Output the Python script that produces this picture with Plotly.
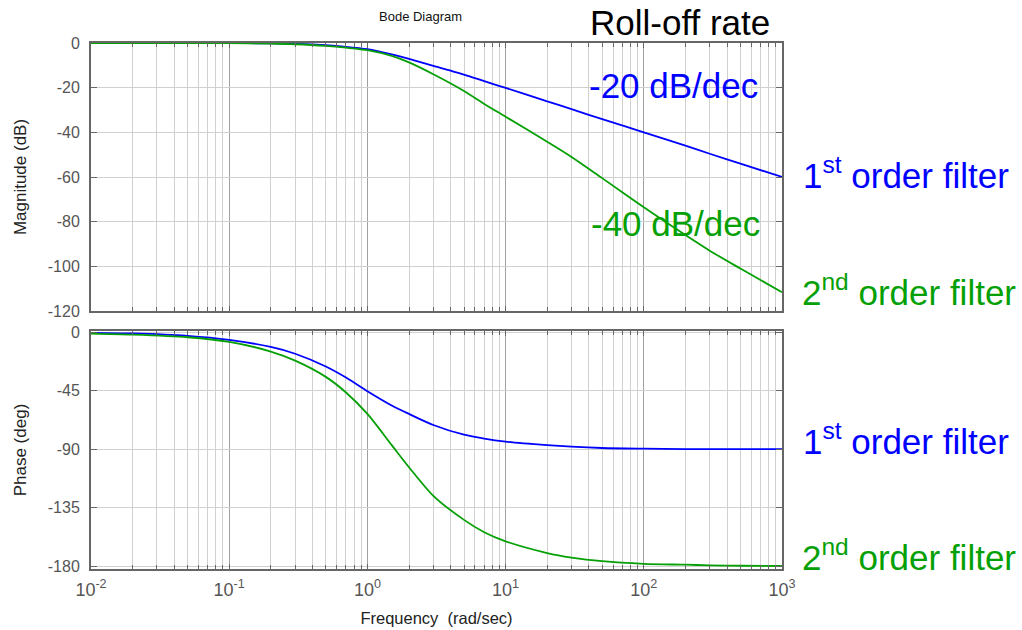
import plotly.graph_objects as go

# Frequency samples (rad/sec)
freq = [0.01, 0.02, 0.05, 0.1, 0.2, 0.3, 0.5, 0.7, 1, 1.5, 2, 3, 5, 7, 10,
        20, 30, 50, 100, 200, 300, 500, 1000]

# Magnitude (dB)
mag_first = [0, 0, -0.01, -0.04, -0.17, -0.37, -1.0, -1.7, -2.8, -5.1, -7.1,
             -10.2, -14.2, -17.1, -20.1, -26.1, -29.6, -34.1, -40.0, -46.0,
             -49.6, -54.0, -60.0]
mag_second = [0, 0, -0.02, -0.05, -0.25, -0.55, -1.3, -2.1, -3.2, -5.8, -8.7,
              -14.0, -21.5, -27.3, -33.0, -44.2, -51.0, -60.5, -73.5, -86.0,
              -93.0, -101.0, -111.6]

# Phase (deg)
ph_first = [-0.6, -1.1, -2.9, -6.0, -11.5, -16.7, -26.5, -35.0, -45.5, -56.5,
            -63.0, -71.5, -79.0, -82.0, -84.3, -87.0, -88.2, -89.2, -89.7,
            -90.0, -90.0, -90.0, -90.0]
ph_second = [-1.2, -2.0, -4.0, -7.6, -15.0, -22.0, -34.5, -46.5, -63.0, -87.0,
             -104.0, -126.0, -144.5, -154.0, -161.0, -170.0, -173.5, -176.3,
             -178.3, -179.0, -179.5, -179.8, -180.0]

decades = [0.01, 0.1, 1, 10, 100, 1000]
decade_labels = ["10<sup>-2</sup>", "10<sup>-1</sup>", "10<sup>0</sup>",
                 "10<sup>1</sup>", "10<sup>2</sup>", "10<sup>3</sup>"]
minor_freqs = [m * d for d in decades[:-1] for m in range(2, 10)]

mag_ticks = [0, -20, -40, -60, -80, -100, -120]
mag_labels = ["0", "-20", "-40", "-60", "-80", "-100", "-120"]
phase_ticks = [0, -45, -90, -135, -180]
phase_labels = ["0", "-45", "-90", "-135", "-180"]

BLUE = "#0000ff"
GREEN = "#05a005"
AXIS = "#666666"
FONT = "Liberation Sans, Arial, sans-serif"

# plot-area geometry in pixels
W, H = 1022, 630
L, R, T, B = 91, 782, 43, 569


def px(xp):
    return (xp - L) / (R - L)


def py(yp):
    return (B - yp) / (B - T)


def curve(y, color, xa, ya):
    return go.Scatter(x=freq, y=y, mode="lines", xaxis=xa, yaxis=ya,
                      line=dict(color=color, width=1.8, shape="spline",
                                smoothing=0.8))


fig = go.Figure()
fig.add_trace(curve(mag_first, BLUE, "x", "y"))
fig.add_trace(curve(mag_second, GREEN, "x", "y"))
fig.add_trace(curve(ph_first, BLUE, "x2", "y2"))
fig.add_trace(curve(ph_second, GREEN, "x2", "y2"))

xcommon = dict(
    type="log", range=[-2, 3], tickvals=decades, ticktext=decade_labels,
    showgrid=True, gridcolor="#a0a0a0", gridwidth=1,
    showline=True, linecolor=AXIS, linewidth=2, mirror="ticks",
    ticks="inside", ticklen=5, tickcolor=AXIS,
    minor=dict(tickvals=minor_freqs, showgrid=True, gridcolor="#d0d0d0",
               gridwidth=1, ticks="inside", ticklen=4, tickcolor=AXIS),
    zeroline=False, automargin=False,
    tickfont=dict(family=FONT, size=18, color="#555555"),
    ticklabelstandoff=3,
)
ycommon = dict(
    showgrid=True, gridcolor="#d0d0d0", gridwidth=1,
    showline=True, linecolor=AXIS, linewidth=2, mirror="ticks",
    ticks="inside", ticklen=6, tickcolor=AXIS, zeroline=False,
    automargin=False,
    tickfont=dict(family=FONT, size=16, color="#555555"),
    ticklabelstandoff=6,
    title_font=dict(family=FONT, size=17, color="#222222"),
)

top_lo = py(311)
bot_hi = py(331)

fig.update_layout(
    width=W, height=H,
    margin=dict(l=L, r=W - R, t=T, b=H - B, pad=0, autoexpand=False),
    paper_bgcolor="white", plot_bgcolor="white",
    showlegend=False,
    xaxis=dict(xcommon, anchor="y", showticklabels=False, matches="x2"),
    xaxis2=dict(xcommon, anchor="y2",
                title=dict(text="Frequency  (rad/sec)", standoff=14,
                           font=dict(family=FONT, size=16.5, color="#222222"))),
    yaxis=dict(ycommon, domain=[top_lo, 1], range=[-120, 0],
               tickvals=mag_ticks, ticktext=mag_labels,
               title=dict(text="Magnitude (dB)", standoff=17)),
    yaxis2=dict(ycommon, domain=[0, bot_hi], range=[-182.3, 0.8],
                tickvals=phase_ticks, ticktext=phase_labels,
                title=dict(text="Phase (deg)", standoff=17)),
)

annotations = [
    dict(text="Bode Diagram", x=px(420), y=py(17), size=13, color="#111111"),
    dict(text="Roll-off rate", x=px(680), y=py(23), size=35, color="#000000"),
    dict(text="-20 dB/dec", x=px(673), y=py(86), size=35, color=BLUE),
    dict(text="-40 dB/dec", x=px(675), y=py(223), size=35, color=GREEN),
    dict(text="1<sup>st</sup> order filter", x=px(906), y=py(173), size=35, color=BLUE),
    dict(text="2<sup>nd</sup> order filter", x=px(909), y=py(290), size=35, color=GREEN),
    dict(text="1<sup>st</sup> order filter", x=px(906), y=py(439), size=35, color=BLUE),
    dict(text="2<sup>nd</sup> order filter", x=px(909), y=py(555), size=35, color=GREEN),
]
for a in annotations:
    fig.add_annotation(text=a["text"], x=a["x"], y=a["y"], xref="paper",
                       yref="paper", xanchor="center", yanchor="middle",
                       showarrow=False,
                       font=dict(family=FONT, size=a["size"], color=a["color"]))

fig.write_html("out.html")
